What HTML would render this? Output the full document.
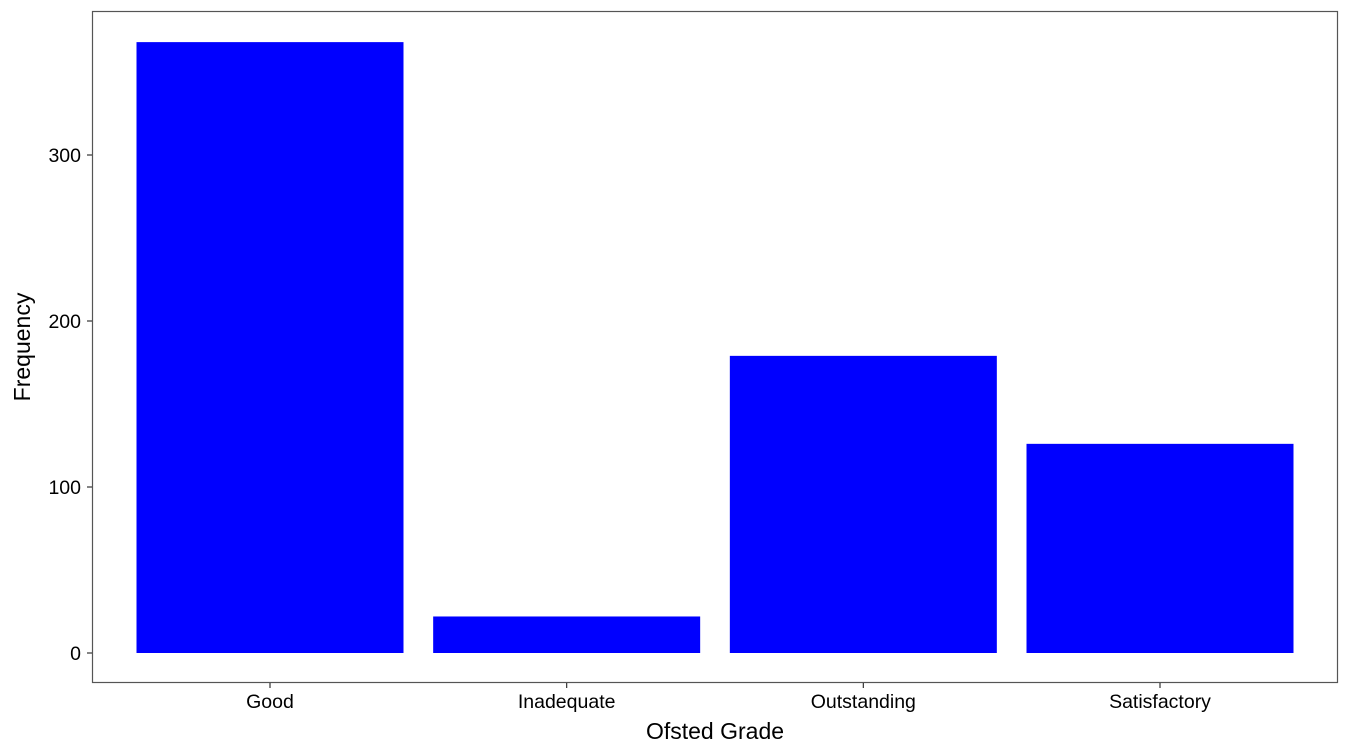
<!DOCTYPE html>
<html><head><meta charset="utf-8"><style>
html,body{margin:0;padding:0;background:#fff;}
svg{display:block;font-family:"Liberation Sans",sans-serif;}
</style></head><body>
<svg id="chart" width="1350" height="750" xmlns="http://www.w3.org/2000/svg">
<rect x="92.5" y="11.5" width="1245" height="671" fill="#fff" stroke="#555" stroke-width="1.2"/>
<g id="bars"></g>
<g id="yaxis"></g>
<g id="xaxis"></g>
<text x="715" y="739" text-anchor="middle" font-size="23" fill="#000">Ofsted Grade</text>
<text transform="translate(30,347) rotate(-90)" text-anchor="middle" font-size="23" fill="#000">Frequency</text>
</svg>
<script>
const categories = ["Good","Inadequate","Outstanding","Satisfactory"];
const counts = [368, 22, 179, 126];
const yTicks = [0, 100, 200, 300];

const NS = "http://www.w3.org/2000/svg";
const panelL = 92, panelR = 1338;
const y0px = 653, pxPerUnit = (653-155)/300;
function y(v){ return y0px - v*pxPerUnit; }
const n = categories.length;
const step = (panelR - panelL)/(n - 1 + 1.2);
function xc(i){ return panelL + step*(0.6 + i); }
const bw = step*0.9;

const bars = document.getElementById('bars');
categories.forEach((c,i)=>{
  const r = document.createElementNS(NS,'rect');
  r.setAttribute('x', xc(i)-bw/2);
  r.setAttribute('y', y(counts[i]));
  r.setAttribute('width', bw);
  r.setAttribute('height', y(0)-y(counts[i]));
  r.setAttribute('fill', '#0000ff');
  
  
  bars.appendChild(r);
});

const ya = document.getElementById('yaxis');
yTicks.forEach(t=>{
  const l = document.createElementNS(NS,'line');
  l.setAttribute('x1', panelL-5); l.setAttribute('x2', panelL);
  l.setAttribute('y1', y(t)); l.setAttribute('y2', y(t));
  l.setAttribute('stroke', '#333'); l.setAttribute('stroke-width', '1.2');
  
  
  ya.appendChild(l);
  const tx = document.createElementNS(NS,'text');
  tx.setAttribute('x', panelL-11); tx.setAttribute('y', y(t)+7);
  tx.setAttribute('text-anchor', 'end'); tx.setAttribute('font-size', '19.5');
  tx.textContent = t;
  
  
  ya.appendChild(tx);
});

const xa = document.getElementById('xaxis');
categories.forEach((c,i)=>{
  const l = document.createElementNS(NS,'line');
  l.setAttribute('x1', xc(i)); l.setAttribute('x2', xc(i));
  l.setAttribute('y1', 683); l.setAttribute('y2', 688);
  l.setAttribute('stroke', '#333'); l.setAttribute('stroke-width', '1.2');
  
  
  xa.appendChild(l);
  const tx = document.createElementNS(NS,'text');
  tx.setAttribute('x', xc(i)); tx.setAttribute('y', 708);
  tx.setAttribute('text-anchor', 'middle'); tx.setAttribute('font-size', '19.5');
  tx.textContent = c;
  
  
  xa.appendChild(tx);
});
</script>
</body></html>
